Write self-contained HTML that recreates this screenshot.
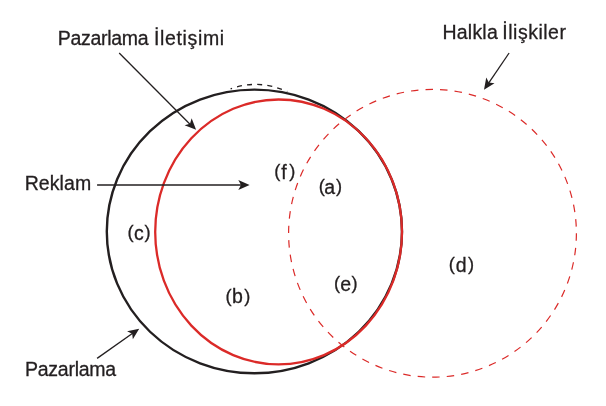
<!DOCTYPE html>
<html>
<head>
<meta charset="utf-8">
<title>Diagram</title>
<style>
html,body{margin:0;padding:0;background:#fff;}
body{width:606px;height:406px;overflow:hidden;}
svg{display:block;will-change:transform;transform:translateZ(0);}
text{font-family:"Liberation Sans",sans-serif;fill:#231f20;stroke:#231f20;stroke-width:0.3px;}
</style>
</head>
<body>
<svg width="606" height="406" viewBox="0 0 606 406">
  <rect width="606" height="406" fill="#ffffff"/>
  <!-- dashed black cap above the big shape -->
  <path d="M230.6 88.9 Q258 78.8 287.3 91.5" fill="none" stroke="#231f20" stroke-width="1.3" stroke-dasharray="5 5.2" stroke-dashoffset="3.5"/>
  <!-- black big shape -->
  <ellipse cx="254.4" cy="231.45" rx="147.6" ry="141.85" fill="none" stroke="#231f20" stroke-width="2.4"/>
  <!-- red solid ellipse -->
  <ellipse cx="278.6" cy="231.95" rx="123.4" ry="132.45" fill="none" stroke="#db2a28" stroke-width="2.3"/>
  <!-- red dashed circle -->
  <circle cx="432.5" cy="233.3" r="143.9" fill="none" stroke="#db2a28" stroke-width="1.2" stroke-dasharray="7.5 7.083"/>

  <!-- arrows -->
  <g stroke="#231f20" stroke-width="1.3" fill="none">
    <line x1="119.2" y1="53" x2="190" y2="124.3"/>
    <line x1="509.1" y1="53" x2="487.6" y2="84.6"/>
    <line x1="97.1" y1="185" x2="242.5" y2="185"/>
    <line x1="97.1" y1="358.4" x2="133" y2="333"/>
  </g>
  <g fill="#231f20">
    <path d="M0 0 L-11.3 -5 L-8.6 0 L-11.3 5 Z" transform="translate(249.6 185)"/>
    <path d="M0 0 L-11.3 -5 L-8.6 0 L-11.3 5 Z" transform="translate(196.1 129.8) rotate(45)"/>
    <path d="M0 0 L-11.3 -5 L-8.6 0 L-11.3 5 Z" transform="translate(484.0 89.7) rotate(124.4)"/>
    <path d="M0 0 L-11.3 -5 L-8.6 0 L-11.3 5 Z" transform="translate(139.2 328.7) rotate(-35.2)"/>
  </g>

  <!-- labels -->
  <text font-size="19.5" x="57.67" y="44.75" textLength="90.97" lengthAdjust="spacing">Pazarlama</text>
  <text font-size="19.5" x="153.92" y="44.75" textLength="70.26" lengthAdjust="spacing">İletişimi</text>
  <text font-size="19.5" x="442.54" y="39.20" textLength="55.20" lengthAdjust="spacing">Halkla</text>
  <text font-size="19.5" x="502.37" y="39.20" textLength="63.56" lengthAdjust="spacing">İlişkiler</text>
  <text font-size="19.5" x="24.67" y="189.70" textLength="66.55" lengthAdjust="spacing">Reklam</text>
  <text font-size="19.5" x="24.91" y="376.45" textLength="91.30" lengthAdjust="spacing">Pazarlama</text>
  <!-- region labels (glyphs placed individually) -->
  <text font-size="18.3" x="274.36" y="177.04">(</text>
  <text font-size="19.5" x="281.29" y="178.80">f</text>
  <text font-size="18.3" x="289.23" y="177.02">)</text>
  <text font-size="18.3" x="318.81" y="192.03">(</text>
  <text font-size="19.5" x="324.30" y="193.80">a</text>
  <text font-size="18.3" x="335.92" y="192.02">)</text>
  <text font-size="18.3" x="127.53" y="237.93">(</text>
  <text font-size="19.5" x="134.02" y="239.50">c</text>
  <text font-size="18.3" x="144.50" y="237.92">)</text>
  <text font-size="18.3" x="225.54" y="301.79">(</text>
  <text font-size="19.5" x="232.11" y="303.05">b</text>
  <text font-size="18.3" x="244.23" y="301.77">)</text>
  <text font-size="18.3" x="333.98" y="288.98">(</text>
  <text font-size="19.5" x="340.36" y="290.65">e</text>
  <text font-size="18.3" x="351.44" y="288.97">)</text>
  <text font-size="18.3" x="448.81" y="270.33">(</text>
  <text font-size="19.5" x="455.70" y="271.70">d</text>
  <text font-size="18.3" x="467.97" y="270.31">)</text>
</svg>
</body>
</html>
